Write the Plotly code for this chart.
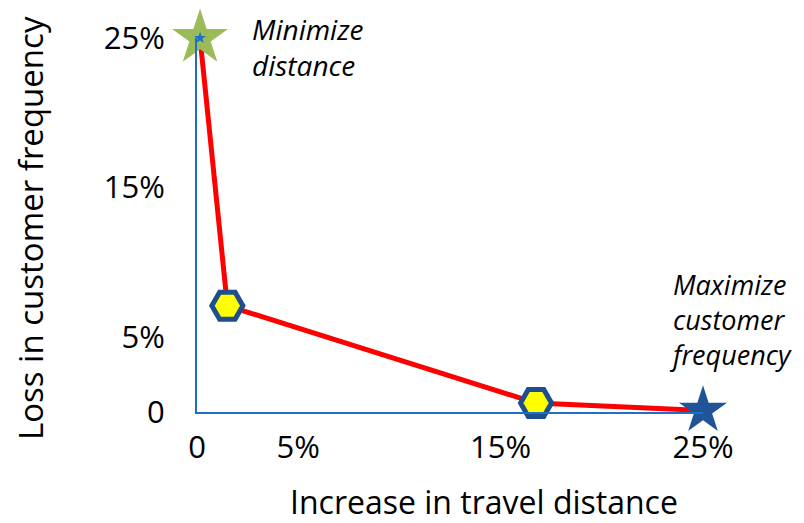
import plotly.graph_objects as go

# Data
travel_increase = [0.15, 1.5, 16.75, 25.0]      # % increase in travel distance
freq_loss = [25.0, 7.1, 0.6, 0.1]               # % loss in customer frequency
x_tick_vals = [0, 5, 15, 25]
x_tick_text = ["0", "5%", "15%", "25%"]
y_tick_vals = [0, 5, 15, 25]
y_tick_text = ["0", "5%", "15%", "25%"]

FONT = "'Open Sans', Lato, sans-serif"
AXIS_BLUE = "#1f6fc8"

fig = go.Figure()

# Red trade-off line
fig.add_trace(go.Scatter(
    x=travel_increase, y=freq_loss, mode="lines",
    line=dict(color="#ff0000", width=5), cliponaxis=False, hoverinfo="skip"))

# End points: stars
fig.add_trace(go.Scatter(
    x=[travel_increase[0]], y=[freq_loss[0]], mode="markers",
    marker=dict(symbol="star", size=42, color="#9bbb59", line=dict(width=0)),
    cliponaxis=False))
fig.add_trace(go.Scatter(
    x=[travel_increase[0]], y=[freq_loss[0]], mode="markers",
    marker=dict(symbol="star", size=9, color="#1f6fc8", line=dict(width=0)),
    cliponaxis=False))
fig.add_trace(go.Scatter(
    x=[travel_increase[-1]], y=[freq_loss[-1]], mode="markers",
    marker=dict(symbol="star", size=36, color="#1f5596", line=dict(width=0)),
    cliponaxis=False))

# Middle points: hexagons
fig.add_trace(go.Scatter(
    x=travel_increase[1:3], y=freq_loss[1:3], mode="markers",
    marker=dict(symbol="hexagon2", size=31, color="#ffff00",
                line=dict(color="#1f4e8c", width=5)),
    cliponaxis=False))

# The page body adds an 8px offset, so the figure is 8px smaller and shifted.
fig.update_layout(
    width=796, height=515,
    margin=dict(l=189, r=101, t=30, b=111, autoexpand=False),
    paper_bgcolor="white", plot_bgcolor="white",
    showlegend=False,
    font=dict(family=FONT, color="black"),
    xaxis=dict(range=[0, 25], showgrid=False, zeroline=False, automargin=False,
               showline=True, linecolor=AXIS_BLUE, linewidth=2,
               tickvals=x_tick_vals, ticktext=x_tick_text, ticks="",
               ticklabelstandoff=7, tickfont=dict(size=31, family=FONT)),
    yaxis=dict(range=[0, 25], showgrid=False, zeroline=False, automargin=False,
               showline=True, linecolor=AXIS_BLUE, linewidth=2,
               tickvals=y_tick_vals, ticktext=y_tick_text, ticks="",
               ticklabelstandoff=24, tickfont=dict(size=31, family=FONT)),
)

# Axis titles
fig.add_annotation(text="Loss in customer frequency", xref="paper", yref="paper",
                   x=0, y=0.492, xshift=-166, textangle=-90, showarrow=False,
                   xanchor="center", yanchor="middle",
                   font=dict(size=33, family=FONT, color="black"))
fig.add_annotation(text="Increase in travel distance", xref="paper", yref="paper",
                   x=0.567, y=0, yshift=-89, showarrow=False,
                   xanchor="center", yanchor="middle",
                   font=dict(size=32, family=FONT, color="black"))

# Italic labels
fig.add_annotation(text="<i>Minimize<br>distance</i>", x=2.6, y=24.4,
                   showarrow=False, xanchor="left", yanchor="middle", align="left",
                   font=dict(size=28, family=FONT, color="black"))
fig.add_annotation(text="<i>Maximize<br>customer<br>frequency</i>", x=23.2, y=6.2,
                   showarrow=False, xanchor="left", yanchor="middle", align="left",
                   font=dict(size=27, family=FONT, color="black"))

fig.write_html("out.html")
